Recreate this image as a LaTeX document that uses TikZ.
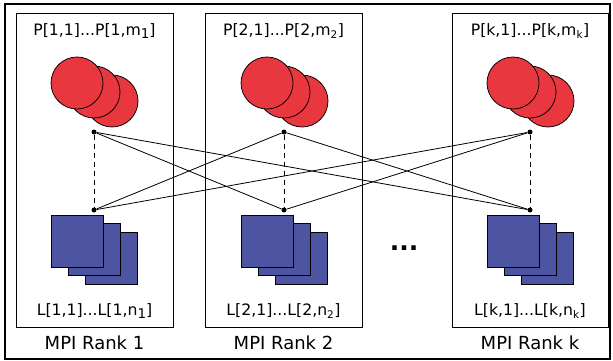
\documentclass[tikz,border=0pt]{standalone}
\usepackage{fontspec}
\setmainfont{DejaVu Sans}
\begin{document}
\begin{tikzpicture}[x=1pt,y=-1pt,
  rankbox/.style={draw=black,line width=1pt},
  proc/.style={circle,draw=black,line width=0.75pt,fill=procred,minimum size=52pt,inner sep=0pt},
  loc/.style={rectangle,draw=black,line width=0.75pt,fill=locblue,minimum size=52pt,inner sep=0pt},
  hub/.style={circle,fill=black,inner sep=0pt,minimum size=5pt},
  lbl/.style={font=\fontsize{15.7}{17}\selectfont,inner sep=0pt},
  rlbl/.style={font=\fontsize{18}{20}\selectfont,inner sep=0pt},
  link/.style={line width=0.8pt},
  own/.style={line width=0.8pt,dash pattern=on 5pt off 4pt}]
\definecolor{procred}{HTML}{E8373E}
\definecolor{locblue}{HTML}{4D55A3}
\useasboundingbox (0,0) rectangle (613,361);
\node[draw=black,line width=2pt,minimum width=605pt,minimum height=355pt,inner sep=0pt] (frame) at (307.5,181.5) {};
% rank boxes
\node[rankbox,minimum width=157pt,minimum height=313pt,inner sep=0pt] (r1) at (94.5,170.5) {};
\node[rankbox,minimum width=157pt,minimum height=313pt,inner sep=0pt] (r2) at (283.5,170.5) {};
\node[rankbox,minimum width=156pt,minimum height=313pt,inner sep=0pt] (rk) at (530,170.5) {};
% labels
\node[lbl] (p1) at (94.5,31) {P[1,1]...P[1,m\raisebox{-2.5pt}{\fontsize{13.5}{13}\selectfont 1}]};
\node[lbl] (p2) at (283.5,31) {P[2,1]...P[2,m$_{\textrm{\fontsize{10.5}{10}\selectfont 2}}$]};
\node[lbl] (pk) at (530,31) {P[k,1]...P[k,m$_{\textrm{\fontsize{10.5}{10}\selectfont k}}$]};
\node[lbl] (l1) at (94.5,311) {L[1,1]...L[1,n\raisebox{-2.5pt}{\fontsize{13.5}{13}\selectfont 1}]};
\node[lbl] (l2) at (283.5,311) {L[2,1]...L[2,n$_{\textrm{\fontsize{10.5}{10}\selectfont 2}}$]};
\node[lbl] (lk) at (530,311) {L[k,1]...L[k,n$_{\textrm{\fontsize{10.5}{10}\selectfont k}}$]};
\node[rlbl] (m1) at (94.5,343) {MPI Rank 1};
\node[rlbl] (m2) at (283.5,343) {MPI Rank 2};
\node[rlbl] (mk) at (530,343) {MPI Rank k};
\node[font=\bfseries\fontsize{25}{26}\selectfont,inner sep=0pt,anchor=base] (ell) at (404,250) {...};
% process circles and locale squares
\foreach \n/\c in {1/94,2/284,k/530}{
  \node[proc] (pc\n c) at (\c+18,101) {};
  \node[proc] (pc\n b) at (\c,92) {};
  \node[proc] (pc\n a) at (\c-17,83) {};
  \node[loc] (lc\n c) at (\c+17,258) {};
  \node[loc] (lc\n b) at (\c,249.5) {};
  \node[loc] (lc\n a) at (\c-17,241) {};
  \node[hub] (t\n) at (\c,132) {};
  \node[hub] (b\n) at (\c,210) {};
  \draw[own] (t\n) -- (b\n);
}
\draw[link] (t1) -- (b2);
\draw[link] (t1) -- (bk);
\draw[link] (t2) -- (b1);
\draw[link] (t2) -- (bk);
\draw[link] (tk) -- (b1);
\draw[link] (tk) -- (b2);
\end{tikzpicture}
\end{document}
